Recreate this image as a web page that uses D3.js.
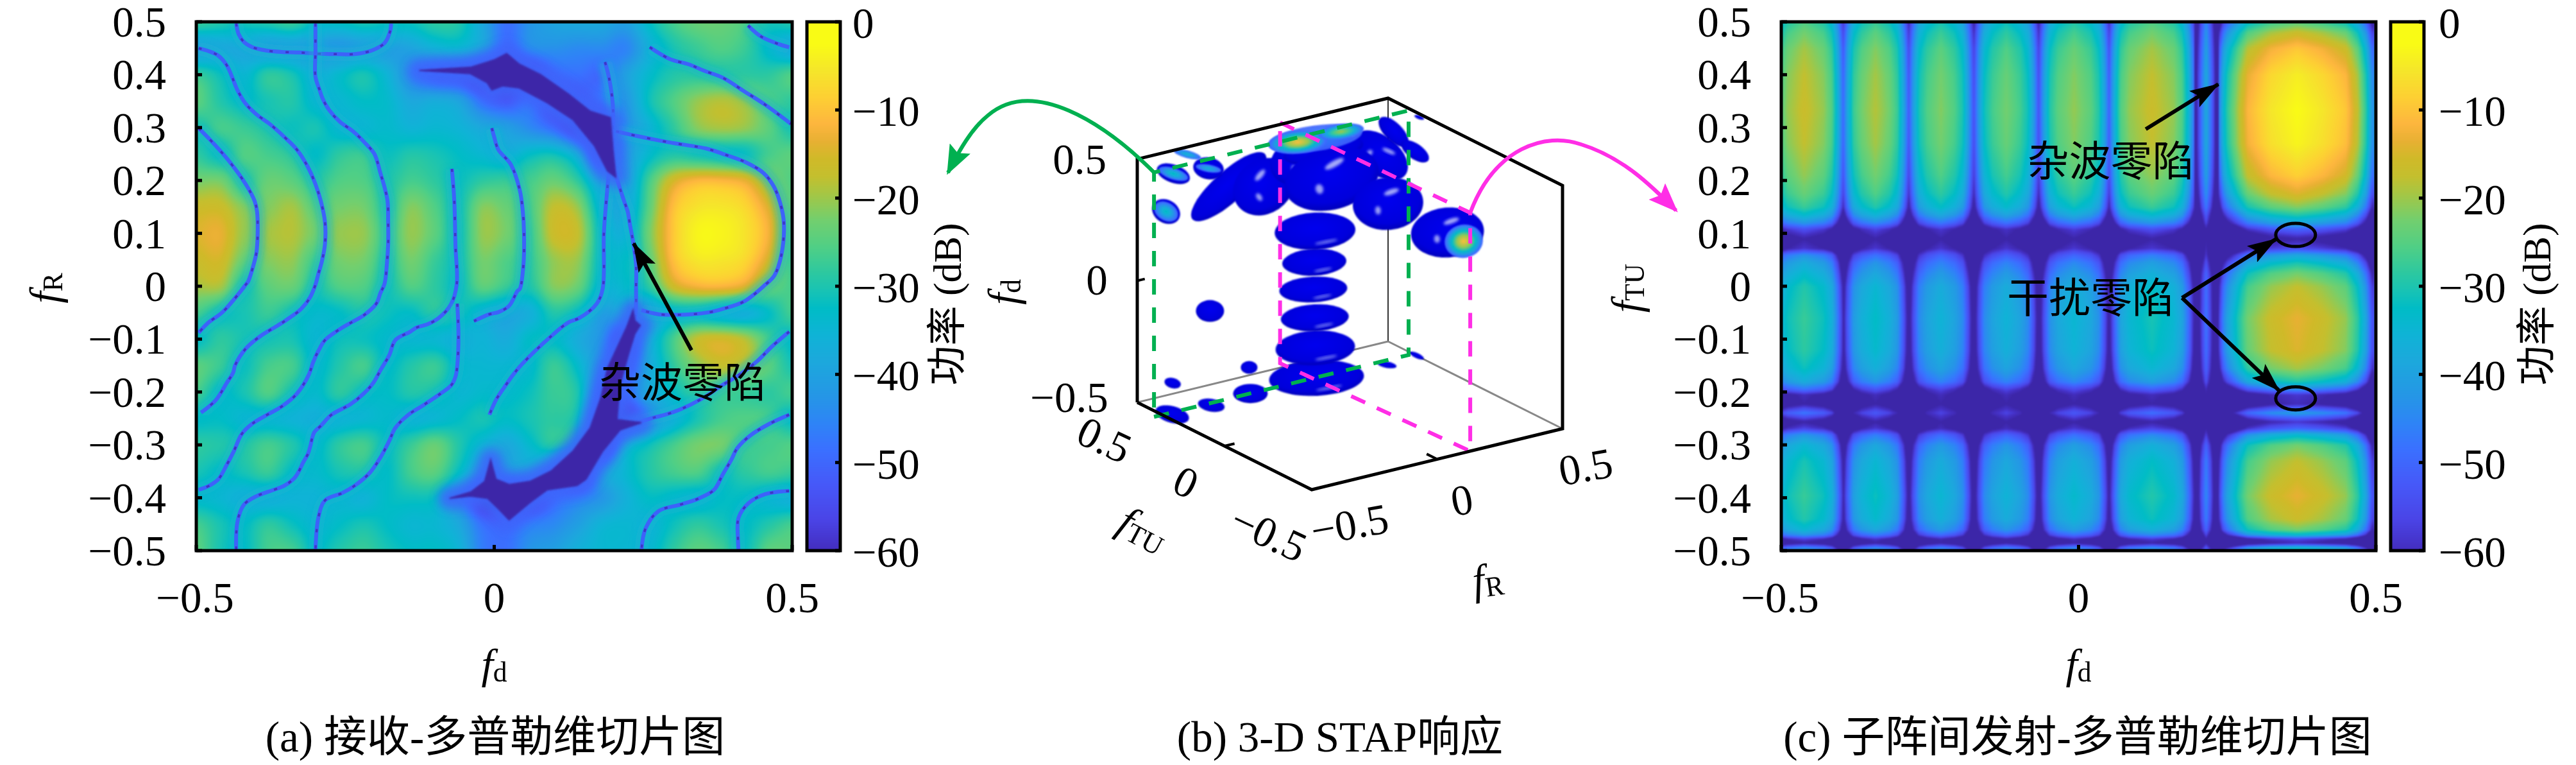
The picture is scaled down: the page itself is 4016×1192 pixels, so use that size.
<!DOCTYPE html>
<html><head><meta charset="utf-8">
<script src="https://cdnjs.cloudflare.com/ajax/libs/d3/7.9.0/d3.min.js"></script>
<style>
html,body{margin:0;padding:0;background:#fff;width:4016px;height:1192px;overflow:hidden}
canvas{position:absolute}
svg{position:absolute;left:0;top:0}
text{font-family:"Liberation Serif","Noto Sans CJK SC",serif;fill:#000}
</style></head><body>
<div id="root"></div>
<script>
// ---------- colour bar (dB -> colour)
const cbDb=[0,-3,-6,-9,-11,-13,-15,-17,-20,-23,-26,-28,-30,-33,-36,-40,-43,-46,-50,-54,-57,-60];
const cbColors=["#f9fb15","#f5e62a","#fdd033","#fdb63e","#e8b033","#d0b928","#c4bf2e","#a5c644","#72cf6e","#50cf85","#2cc8a0","#18c3b4","#00bcc6","#0fb3d6","#1ca8dc","#2596e6","#2e84f6","#3a70ff","#4658f8","#4a44e6","#4430c4","#3c26a8"];
const cbTicks=[0,-10,-20,-30,-40,-50,-60];
const yTicks=[0.5,0.4,0.3,0.2,0.1,0,-0.1,-0.2,-0.3,-0.4,-0.5];
const xTicks=[-0.5,0,0.5];

// ---------- panel (a): received-Doppler slice, read on a 0.04 x 0.05 lattice
const aFd=[-.5,-.46,-.42,-.38,-.34,-.30,-.26,-.22,-.18,-.14,-.10,-.06,-.02,.02,.06,.10,.14,.18,.22,.26,.30,.34,.38,.42,.46,.50];
const aFr=[.5,.45,.4,.35,.3,.25,.2,.15,.1,.05,0,-.05,-.1,-.15,-.2,-.25,-.3,-.35,-.4,-.45,-.5];
const aPower=[
[-25,-27,-28,-27,-25,-30,-30,-28,-29,-29,-26,-27,-36,-46,-40,-37,-36,-36,-38,-30,-24,-21,-21,-23,-28,-27],
[-38,-36,-36,-38,-38,-39,-40,-38,-38,-37,-34,-33,-38,-48,-42,-41,-42,-42,-43,-34,-28,-25,-23,-25,-31,-36],
[-25,-29,-32,-26,-28,-34,-31,-28,-33,-42,-48,-50,-56,-60,-56,-48,-46,-47,-38,-31,-27,-26,-26,-26,-26,-23],
[-22,-27,-30,-28,-27,-32,-32,-30,-31,-36,-35,-37,-46,-50,-46,-54,-52,-46,-40,-29,-23,-18,-16,-18,-23,-26],
[-28,-24,-25,-27,-29,-28,-32,-32,-31,-33,-32,-33,-36,-38,-42,-47,-56,-60,-42,-33,-26,-19,-17,-18,-22,-28],
[-26,-29,-23,-24,-26,-30,-26,-25,-29,-27,-28,-30,-32,-34,-30,-29,-36,-55,-40,-31,-27,-28,-29,-29,-24,-22],
[-20,-20,-26,-21,-22,-26,-23,-23,-27,-24,-26,-29,-26,-25,-24,-21,-26,-38,-38,-24,-13,-9,-9,-11,-18,-23],
[-14,-14,-19,-19,-17,-22,-20,-20,-26,-19,-23,-28,-19,-21,-23,-15,-18,-33,-36,-22,-8,-3.5,-3,-5,-12,-22],
[-12,-11,-18,-17,-16,-20,-18,-18,-24,-18,-22,-28,-18,-20,-24,-14,-15,-30,-33,-20,-7,-1,-1,-3.5,-10,-24],
[-14,-13,-21,-19,-18,-24,-20,-20,-26,-20,-25,-28,-20,-23,-25,-18,-18,-30,-30,-22,-8,-3,-3,-5,-13,-25],
[-17,-17,-27,-22,-21,-27,-23,-23,-28,-23,-26,-29,-22,-25,-27,-19,-21,-32,-31,-26,-14,-10,-9.5,-12,-20,-24],
[-24,-28,-28,-25,-28,-31,-30,-27,-29,-30,-26,-28,-33,-36,-34,-27,-30,-38,-36,-38,-31,-30,-33,-34,-30,-24],
[-30,-26,-28,-28,-28,-32,-29,-29,-31,-32,-32,-34,-33,-35,-30,-30,-35,-41,-54,-36,-24,-15,-13,-16,-24,-30],
[-22,-25,-29,-24,-24,-31,-27,-24,-30,-27,-25,-31,-32,-32,-31,-25,-31,-42,-50,-36,-26,-19,-15,-17,-22,-28],
[-24,-30,-28,-23,-28,-31,-26,-29,-30,-27,-28,-32,-31,-31,-29,-25,-28,-48,-46,-36,-30,-25,-24,-25,-26,-24],
[-30,-30,-32,-32,-33,-34,-33,-32,-31,-33,-32,-30,-28,-30,-28,-26,-30,-55,-56,-42,-34,-28,-24,-23,-24,-30],
[-26,-27,-27,-24,-27,-31,-26,-24,-29,-25,-21,-27,-33,-36,-31,-27,-34,-58,-36,-29,-24,-20,-20,-24,-24,-23],
[-28,-30,-28,-25,-30,-31,-28,-27,-30,-24,-22,-30,-40,-40,-38,-46,-58,-40,-32,-27,-24,-23,-28,-26,-24,-25],
[-31,-32,-34,-34,-33,-33,-32,-33,-30,-29,-30,-40,-56,-60,-55,-47,-44,-40,-34,-30,-31,-32,-30,-30,-32,-34],
[-24,-28,-30,-26,-29,-32,-30,-28,-30,-32,-32,-36,-46,-48,-44,-42,-38,-33,-32,-33,-29,-26,-28,-30,-27,-24],
[-22,-28,-30,-24,-24,-30,-27,-25,-28,-30,-30,-33,-44,-46,-40,-38,-34,-32,-32,-32,-26,-22,-24,-29,-22,-22]];
// null ridges of panel (a): [fd, fR]
const aNulls=[
[[-.433,.497],[-.429,.477],[-.420,.462],[-.406,.452],[-.384,.446],[-.356,.443],[-.327,.442],[-.302,.440],[-.263,.439],[-.234,.439],[-.205,.446],[-.184,.460],[-.175,.481],[-.173,.497]],
[[-.496,.450],[-.478,.444],[-.463,.436],[-.449,.418],[-.440,.396],[-.431,.371],[-.417,.345],[-.399,.325],[-.377,.307],[-.352,.282],[-.331,.258],[-.313,.226],[-.300,.193],[-.291,.161],[-.284,.121],[-.284,.080],[-.289,.048],[-.295,.024],[-.300,.003],[-.309,-.021],[-.324,-.043],[-.349,-.064],[-.363,-.074],[-.392,-.094],[-.417,-.118],[-.435,-.150],[-.438,-.163],[-.449,-.183],[-.467,-.215],[-.492,-.239]],
[[-.496,.299],[-.471,.270],[-.446,.238],[-.417,.193],[-.402,.161],[-.398,.141],[-.397,.100],[-.399,.064],[-.404,.040],[-.413,.009],[-.417,.003],[-.428,-.013],[-.456,-.049],[-.481,-.070],[-.496,-.088]],
[[-.300,.497],[-.300,.444],[-.300,.396],[-.293,.371],[-.288,.355],[-.277,.333],[-.259,.311],[-.237,.293],[-.216,.270],[-.201,.250],[-.191,.214],[-.184,.187],[-.179,.161],[-.178,.121],[-.178,.080],[-.180,.044],[-.184,.005],[-.191,-.013],[-.198,-.033],[-.219,-.055],[-.239,-.068],[-.263,-.084],[-.284,-.102],[-.295,-.122],[-.304,-.144],[-.311,-.167],[-.331,-.203],[-.356,-.227],[-.381,-.243],[-.406,-.260],[-.424,-.280],[-.437,-.312],[-.449,-.338],[-.463,-.365],[-.478,-.377],[-.496,-.385]],
[[-.071,.222],[-.067,.161],[-.065,.076],[-.063,.003],[-.073,-.035],[-.093,-.060],[-.112,-.072],[-.130,-.078],[-.141,-.086],[-.166,-.102],[-.176,-.130],[-.191,-.159],[-.203,-.183],[-.219,-.203],[-.241,-.223],[-.273,-.243],[-.291,-.264],[-.302,-.276],[-.309,-.304],[-.313,-.318],[-.320,-.332],[-.334,-.361],[-.352,-.377],[-.370,-.385],[-.399,-.397],[-.420,-.413],[-.431,-.446],[-.433,-.500]],
[[-.062,-.033],[-.060,-.094],[-.062,-.150],[-.065,-.171],[-.072,-.187],[-.090,-.203],[-.119,-.225],[-.144,-.243],[-.166,-.268],[-.176,-.292],[-.191,-.324],[-.209,-.353],[-.234,-.377],[-.255,-.391],[-.284,-.405],[-.295,-.437],[-.300,-.500]],
[[-.004,.299],[0,.282],[.007,.258],[.028,.230],[.043,.181],[.048,.141],[.050,.100],[.049,.040],[.043,-.005],[.039,-.009],[.025,-.037],[.007,-.049],[-.008,-.053],[-.034,-.066]],
[[.193,.222],[.188,.161],[.184,.100],[.182,-.005],[.172,-.033],[.143,-.060],[.125,-.068],[.096,-.094],[.046,-.148],[.032,-.167],[.017,-.191],[.003,-.215],[-.008,-.243]],
[[.186,.424],[.193,.392],[.199,.343],[.199,.282],[.200,.230],[.211,.185],[.218,.161],[.224,.141],[.228,.115],[.233,.084],[.238,.040],[.238,-.005],[.238,-.033],[.236,-.065]],
[[.261,.452],[.294,.430],[.328,.419],[.351,.408],[.384,.394],[.419,.369],[.455,.343],[.498,.307]],
[[.426,.493],[.448,.472],[.477,.458],[.495,.452]],
[[.204,.293],[.240,.284],[.294,.272],[.357,.260],[.387,.249],[.423,.234],[.452,.214],[.469,.189],[.480,.157],[.486,.121],[.482,.060],[.470,.020],[.455,.003],[.419,-.029],[.383,-.043],[.362,-.049],[.330,-.053],[.276,-.053],[.247,-.045]],
[[.495,-.086],[.466,-.114],[.441,-.142],[.412,-.167],[.383,-.187],[.348,-.213],[.312,-.233],[.287,-.243],[.269,-.248],[.240,-.258],[.211,-.268]],
[[.495,-.243],[.462,-.260],[.430,-.282],[.408,-.306],[.398,-.328],[.383,-.357],[.369,-.385],[.344,-.401],[.312,-.413],[.276,-.425],[.254,-.458],[.247,-.500]],
[[.495,-.387],[.455,-.393],[.427,-.410],[.410,-.438],[.409,-.478],[.410,-.500]]];
// deep (-60 dB) clutter notch regions of panel (a): [fd, fR]
const aNotches=[
[[-.126,.408],[-.040,.414],[0,.428],[.021,.440],[.042,.420],[.078,.400],[.125,.363],[.161,.331],[.195,.319],[.199,.262],[.204,.206],[.190,.218],[.168,.266],[.132,.315],[.089,.347],[.042,.375],[.014,.379],[-.004,.371],[-.012,.385],[-.040,.402]],
[[.236,-.065],[.245,-.074],[.236,-.090],[.225,-.130],[.211,-.187],[.206,-.252],[.247,-.258],[.211,-.272],[.182,-.312],[.154,-.365],[.139,-.377],[.089,-.385],[.060,-.409],[.025,-.442],[.007,-.421],[-.011,-.401],[-.040,-.397],[-.075,-.401],[-.039,-.389],[-.016,-.369],[-.006,-.328],[.003,-.365],[.025,-.375],[.060,-.369],[.096,-.349],[.132,-.312],[.161,-.268],[.179,-.211],[.190,-.155],[.222,-.078],[.233,-.045]]];
const aArrow=[[.331,-.121],[.234,.081]];
const aClutterLabel=[.316,-.183];

// ---------- panel (c): transmit-Doppler slice, ridge level of each lobe along fTU
const cLobeNulls=[-.397,-.287,-.177,-.067,.052,.194,.235];
const cRowKnots=[.5,.48,.45,.40,.334,.27,.21,.175,.15,.135,.12,.108,.09,.072,.06,.045,.025,0,-.06,-.12,-.155,-.18,-.195,-.205,-.222,-.239,-.256,-.268,-.28,-.30,-.33,-.396,-.44,-.46,-.47,-.478,-.485,-.492,-.5];
const cRidge=[
[-23,-25,-28,-29,-27,-23,-42,-22],[-20,-22,-25,-26,-24,-20,-40,-14],[-17,-19,-22,-23,-21,-17,-38,-7],[-15,-17,-20,-21,-19,-15,-36,-2],
[-14,-16,-19,-20,-18,-14,-36,0],[-15,-17,-20,-21,-19,-15,-36,-1],[-18,-20,-23,-24,-22,-18,-38,-6],[-21,-23,-26,-27,-25,-21,-41,-12],
[-25,-27,-30,-31,-29,-25,-45,-19],[-31,-33,-36,-37,-35,-31,-50,-27],[-40,-42,-45,-46,-44,-40,-54,-36],[-52,-54,-56,-57,-55,-52,-60,-48],
[-60,-60,-60,-60,-60,-60,-60,-60],[-56,-56,-56,-56,-56,-56,-58,-52],
[-41,-46,-48,-49,-48,-44,-56,-37],[-35,-40,-43,-43,-42,-38,-52,-28],[-31,-36,-39,-39,-38,-34,-48,-20],[-27,-32,-35,-35,-34,-30,-46,-15],
[-25,-30,-33,-33,-32,-28,-45,-11],[-26,-31,-34,-34,-33,-29,-46,-12],[-29,-34,-37,-37,-36,-32,-48,-17],[-35,-40,-43,-43,-42,-38,-52,-27],
[-46,-51,-54,-54,-53,-49,-58,-42],[-58,-58,-58,-58,-58,-58,-60,-56],[-60,-60,-60,-60,-60,-60,-60,-58],
[-45,-50,-54,-54,-50,-46,-60,-38],[-60,-60,-60,-60,-60,-60,-60,-56],[-54,-56,-58,-58,-56,-54,-60,-48],
[-40,-44,-47,-48,-46,-42,-55,-32],[-32,-36,-39,-40,-38,-34,-48,-20],[-28,-32,-35,-36,-34,-30,-44,-15],
[-25,-29,-32,-33,-31,-27,-42,-11],[-27,-31,-34,-35,-33,-29,-44,-14],[-32,-36,-39,-40,-38,-34,-48,-20],[-40,-44,-47,-48,-46,-42,-54,-32],
[-55,-57,-59,-60,-58,-56,-60,-54],[-60,-60,-60,-60,-60,-60,-60,-58],[-45,-46,-47,-47,-46,-45,-52,-36],[-36,-36,-38,-38,-37,-36,-46,-24]];
// fall-off from the ridge across fd
const cFdKnots=[-.5,-.49,-.462,-.429,-.415,-.405,-.397,-.389,-.379,-.365,-.342,-.319,-.305,-.295,-.287,-.279,-.269,-.255,-.232,-.209,-.195,-.185,-.177,-.169,-.159,-.145,-.122,-.099,-.085,-.075,-.067,-.059,-.049,-.035,-.008,.02,.034,.044,.052,.06,.07,.085,.123,.16,.174,.186,.194,.2,.206,.214,.222,.228,.235,.243,.25,.269,.284,.323,.367,.41,.449,.469,.483,.495,.5];
const cFdDrop=[-8,-4,0,-4,-9,-20,-32,-20,-9,-4,0,-4,-9,-20,-32,-20,-9,-4,0,-4,-9,-20,-32,-20,-9,-4,0,-4,-9,-20,-32,-20,-9,-4,0,-4,-9,-20,-32,-20,-9,-4,0,-4,-9,-20,-32,-20,-10,0,-10,-20,-45,-32,-26,-16,-9,-3,0,-3,-7,-15,-26,-42,-28];
const cArrowClutter=[[.113,.297],[.235,.382]];
const cClutterLabel=[.054,.235];
const cJamLabel=[.020,-.023];
const cJamFrom=[.174,-.022];
const cJamTips=[[.332,.089],[.337,-.197]];
const cJamMarks=[[.365,.097],[.365,-.212]];

// ---------- panel (b): isosurface lobes [fR, fTU, fd]
const bLobeCenters=[[.120,0,.540],[.174,0,.623],[.260,0,.521],[-.483,0,.562],[-.344,0,.527],[-.193,0,.597],[-.106,0,.617],[-.073,0,.492],[.152,0,.333],
[-.133,0,-.312],[-.138,0,-.187],[-.140,0,-.063],[-.146,0,.055],[-.142,0,.166],[-.139,0,.293],[.389,0,.155],
[-.21,.5,-.197],[-.054,.5,-.468],[-.359,.5,-.456],[-.356,.5,.404],[-.216,.5,.391],[-.385,.5,.256],
[-.188,.3,-.470],[-.344,.3,-.479],[-.5,.3,-.478],[.287,.2,-.435],[.406,.2,-.427],[.481,.294,.5]];
const bLobeRadii=[[50,30],[30,14],[25,12],[76,24],[50,42],[50,37],[63,20],[75,48],[55,41],[74,28],[62,27],[53,21],[53,20],[50,21],[63,29],[57,39],[22,17],[13,10],[13,8],[27,14],[24,17],[23,18],[27,15],[21,10],[27,13],[15,5],[12,4],[8,3]];
const bLobeTilt=[38,45,35,-42,-35,-20,-10,-15,-5,-3,-3,-3,-3,-3,-3,-5,0,0,15,20,10,30,0,10,15,10,25,20];
// slice caps [fR, fTU, fd, peak dB]
const bCaps=[[.089,.327,.5,-42],[.022,.33,.5,-8],[.194,.33,.5,-17],[.454,0,.103,-8],[-.356,.5,.404,-30],[-.216,.5,.391,-34],[-.385,.5,.256,-30],[-.30,.5,.47,-33]];
const bCapRadii=[[74,20],[46,18],[36,12],[30,26],[24,9],[20,6],[20,14],[22,6]];
const bCapTilt=[-8,-5,-8,-10,18,10,30,15];
const bGreenPlane=[[-.5,.404,-.525],[.515,.404,-.525],[.515,.404,.48],[-.5,.404,.48]];
const bPinkPlane=[[.132,.59,.46],[.132,-.5,.48],[.132,-.5,-.5],[.132,.59,-.53]];
const bTicks=[-0.5,0,0.5];

const fmt=v=>String(v).replace("-","\u2212").replace(/^(\u2212?)\./,"$10.");
const W=4016,H=1192;
const color=d3.scaleLinear().domain(cbDb.slice().reverse()).range(cbColors.slice().reverse()).clamp(true);
const root=d3.select("#root");

function paint(x,y,w,h,fn,blur){
  const cv=root.append("canvas").attr("width",w).attr("height",h).style("left",x+"px").style("top",y+"px").style("filter",blur?`blur(${blur}px)`:null).node();
  const c=cv.getContext("2d"),img=c.createImageData(w,h);
  const lut=d3.range(0,601).map(i=>d3.rgb(color(-i/10)));
  for(let j=0;j<h;j++)for(let i=0;i<w;i++){
    const v=Math.max(-60,Math.min(0,fn(i,j)));
    const q=lut[Math.round(-v*10)],k=4*(j*w+i);
    img.data[k]=q.r;img.data[k+1]=q.g;img.data[k+2]=q.b;img.data[k+3]=255;
  }
  c.putImageData(img,0,0);
}
const cr=(a,b,c,d,t)=>b+0.5*t*(c-a+t*(2*a-5*b+4*c-d+t*(3*(b-c)+d-a)));

const svg=root.append("svg").attr("width",W).attr("height",H).style("z-index",3);
const defs=svg.append("defs");
[["b1",1],["b2",2],["b4",5],["b6",8],["b1h",1.8],["b07",.7]].forEach(([id,s])=>defs.append("filter").attr("id",id).attr("x","-40%").attr("y","-40%").attr("width","180%").attr("height","180%").append("feGaussianBlur").attr("stdDeviation",s));
const arrow=defs.append("marker").attr("id","ah").attr("markerUnits","userSpaceOnUse").attr("viewBox","0 0 46 30").attr("refX",44).attr("refY",15).attr("markerWidth",46).attr("markerHeight",30).attr("orient","auto");
arrow.append("path").attr("d","M0,0 L46,15 L0,30 L9,15 Z").attr("fill","#000");

function fText(g,x,y,sub,size,rot){
  const t=g.append("text").attr("text-anchor","middle").attr("dominant-baseline","central").attr("font-size",size)
    .attr("transform",`translate(${x},${y})`+(rot?` rotate(${rot})`:""));
  t.append("tspan").attr("font-style","italic").text("f");
  t.append("tspan").attr("font-size",size*0.66).attr("dy",size*0.2).text(sub);
}
function frame(g,x,y,xs,ys,xsub,ysub,yTitleX,cbx,cbTitleX,cbLabelX,caption,capX){
  const yr=ys.range(),xr=xs.range();
  g.append("rect").attr("x",xr[0]).attr("y",yr[0]).attr("width",xr[1]-xr[0]).attr("height",yr[1]-yr[0]).attr("fill","none").attr("stroke","#000").attr("stroke-width",5);
  yTicks.forEach(v=>{
    g.append("line").attr("x1",xr[0]).attr("x2",xr[0]+9).attr("y1",ys(v)).attr("y2",ys(v)).attr("stroke","#000").attr("stroke-width",5);
    g.append("text").attr("x",xr[0]-47).attr("y",ys(v)).attr("text-anchor","end").attr("dominant-baseline","central").attr("font-size",67).text(fmt(v));
  });
  xTicks.forEach(v=>{
    g.append("line").attr("x1",xs(v)).attr("x2",xs(v)).attr("y1",yr[1]).attr("y2",yr[1]-9).attr("stroke","#000").attr("stroke-width",5);
    g.append("text").attr("x",xs(v)+(v<0?-2:0)).attr("y",931).attr("text-anchor","middle").attr("dominant-baseline","central").attr("font-size",67).text(fmt(v));
  });
  fText(g,xs(0),1034,xsub,66);
  fText(g,yTitleX,(yr[0]+yr[1])/2+3,ysub,66,-90);
  const cs=d3.scaleLinear().domain([0,-60]).range([yr[0],yr[1]]);
  g.append("rect").attr("x",cbx).attr("y",yr[0]).attr("width",52).attr("height",yr[1]-yr[0]).attr("fill","none").attr("stroke","#000").attr("stroke-width",5);
  cbTicks.forEach(v=>{
    g.append("line").attr("x1",cbx+52).attr("x2",cbx+44).attr("y1",cs(v)).attr("y2",cs(v)).attr("stroke","#000").attr("stroke-width",5);
    g.append("text").attr("x",cbLabelX).attr("y",cs(v)+2).attr("dominant-baseline","central").attr("font-size",67).text(fmt(v));
  });
  g.append("text").attr("transform",`translate(${cbTitleX},${(yr[0]+yr[1])/2+28}) rotate(-90)`).attr("text-anchor","middle").attr("dominant-baseline","central").attr("font-size",62).text("功率 (dB)");
  g.append("text").attr("x",capX).attr("y",1148).attr("text-anchor","middle").attr("dominant-baseline","central").attr("font-size",67).text(caption);
  paint(cbx,yr[0],52,yr[1]-yr[0],(i,j)=>cs.invert(j));
}

// ===== Panel (a)
const axa=d3.scaleLinear().domain([-.5,.5]).range([306,1235]);
const aya=d3.scaleLinear().domain([.5,-.5]).range([34,858]);
{
  const w=929,h=824,cols=aFd.length,rows=aFr.length;
  const ci=d3.scaleLinear().domain([-.5,.5]).range([0,cols-1]);
  const ri=d3.scaleLinear().domain([.5,-.5]).range([0,rows-1]);
  const at=(r,c)=>aPower[Math.max(0,Math.min(rows-1,r))][Math.max(0,Math.min(cols-1,c))];
  paint(306,34,w,h,(i,j)=>{
    const u=ci(axa.invert(306+i)),v=ri(aya.invert(34+j));
    const c=Math.floor(u),r=Math.floor(v),tu=u-c,tv=v-r,p=[];
    for(let k=-1;k<3;k++)p.push(cr(at(r+k,c-1),at(r+k,c),at(r+k,c+1),at(r+k,c+2),tu));
    return cr(p[0],p[1],p[2],p[3],tv);
  });
  const g=svg.append("g");
  defs.append("clipPath").attr("id","clipA").append("rect").attr("x",306).attr("y",34).attr("width",w).attr("height",h);
  const over=g.append("g").attr("clip-path","url(#clipA)");
  const line=d3.line().x(d=>axa(d[0])).y(d=>aya(d[1])).curve(d3.curveCatmullRom);
  const closed=d3.line().x(d=>axa(d[0])).y(d=>aya(d[1])).curve(d3.curveLinearClosed);
  aNulls.forEach(l=>{
    over.append("path").attr("d",line(l)).attr("fill","none").attr("stroke","#0cb4cf").attr("stroke-width",22).attr("stroke-opacity",.55).attr("filter","url(#b4)");
    over.append("path").attr("d",line(l)).attr("fill","none").attr("stroke","#3c62fa").attr("stroke-width",6).attr("filter","url(#b07)");
    over.append("path").attr("d",line(l)).attr("fill","none").attr("stroke","#3f2cb8").attr("stroke-width",3.5).attr("stroke-opacity",.8).attr("stroke-dasharray","5 20");
  });
  aNotches.forEach(p=>{
    over.append("path").attr("d",closed(p)).attr("fill","#3d66fb").attr("stroke","#3d66fb").attr("stroke-width",34).attr("stroke-linejoin","round").attr("filter","url(#b6)").attr("opacity",.9);
    over.append("path").attr("d",closed(p)).attr("fill","#3c27a8").attr("stroke","#3c27a8").attr("stroke-width",2).attr("filter","url(#b1h)");
  });
  g.append("line").attr("x1",axa(aArrow[0][0])).attr("y1",aya(aArrow[0][1])).attr("x2",axa(aArrow[1][0])).attr("y2",aya(aArrow[1][1])).attr("stroke","#000").attr("stroke-width",6).attr("marker-end","url(#ah)");
  g.append("text").attr("x",axa(aClutterLabel[0])).attr("y",aya(aClutterLabel[1])).attr("text-anchor","middle").attr("dominant-baseline","central").attr("font-size",65).text("杂波零陷");
  frame(g,306,34,axa,aya,"d","R",69,1258,1477,1329,"(a) 接收-多普勒维切片图",772);
}

// ===== Panel (c)
const axc=d3.scaleLinear().domain([-.5,.5]).range([2777,3704]);
const ayc=d3.scaleLinear().domain([.5,-.5]).range([34,858]);
{
  const w=927,h=824;
  const drop=d3.scaleLinear().domain(cFdKnots).range(cFdDrop);
  const ridge=d3.range(8).map(l=>d3.scaleLinear().domain(cRowKnots).range(cRidge.map(r=>r[l])));
  const px=d3.range(w).map(i=>{const f=axc.invert(2777+i);return {l:d3.bisect(cLobeNulls,f),d:drop(f)};});
  const fy=d3.range(h).map(j=>ayc.invert(34+j));
  const rv=fy.map(f=>ridge.map(s=>s(f)));
  paint(2777,34,w,h,(i,j)=>rv[j][px[i].l]+px[i].d,1);
  const g=svg.append("g");
  const seg=(a,b)=>g.append("line").attr("x1",axc(a[0])).attr("y1",ayc(a[1])).attr("x2",axc(b[0])).attr("y2",ayc(b[1])).attr("stroke","#000").attr("stroke-width",6).attr("marker-end","url(#ah)");
  seg(cArrowClutter[0],cArrowClutter[1]);
  cJamTips.forEach(t=>seg(cJamFrom,t));
  cJamMarks.forEach(m=>g.append("ellipse").attr("cx",axc(m[0])).attr("cy",ayc(m[1])).attr("rx",31).attr("ry",18).attr("fill","none").attr("stroke","#000").attr("stroke-width",5));
  [[cClutterLabel,"杂波零陷"],[cJamLabel,"干扰零陷"]].forEach(([p,s])=>g.append("text").attr("x",axc(p[0])).attr("y",ayc(p[1])).attr("text-anchor","middle").attr("dominant-baseline","central").attr("font-size",65).text(s));
  frame(g,2777,34,axc,ayc,"d","TU",2535,3727,3955,3802,"(c) 子阵间发射-多普勒维切片图",3239);
}

// ===== Panel (b)
{
  const g=svg.append("g");
  const xR=d3.scaleLinear().domain([-.5,.5]).range([0,391]),yR=d3.scaleLinear().domain([-.5,.5]).range([0,-95]);
  const xT=d3.scaleLinear().domain([-.5,.5]).range([0,-272]),yT=d3.scaleLinear().domain([-.5,.5]).range([0,-136]);
  const yD=d3.scaleLinear().domain([-.5,.5]).range([0,-379]);
  const P=([r,t,d])=>[2045+xR(r)+xT(t),763+yR(r)+yT(t)+yD(d)];
  const thin=[[[.5,.5,.5],[.5,.5,-.5]],[[.5,.5,-.5],[-.5,.5,-.5]],[[.5,.5,-.5],[.5,-.5,-.5]]];
  const thick=[[-.5,.5,-.5],[-.5,-.5,-.5],[.5,-.5,-.5],[.5,-.5,.5],[.5,.5,.5],[-.5,.5,.5],[-.5,.5,-.5]];
  const ln=d3.line();
  thin.forEach((s,i)=>g.append("path").attr("d",ln(s.map(P))).attr("stroke",i?"#888":"#333").attr("stroke-width",i?3:2).attr("fill","none"));
  const body=defs.append("radialGradient").attr("id","lobe").attr("cx",.5).attr("cy",.42).attr("r",.6);
  body.append("stop").attr("offset",0).attr("stop-color","#0000ee");
  body.append("stop").attr("offset",.75).attr("stop-color","#0000dc");
  body.append("stop").attr("offset",1).attr("stop-color","#0000b4");
  const lobes=g.append("g");
  const isColumn=i=>i>=9&&i<=14;
  bLobeCenters.forEach((c,i)=>{
    const [x,y]=P(c),[rx,ry]=bLobeRadii[i];
    const e=lobes.append("g").attr("transform",`translate(${x},${y}) rotate(${bLobeTilt[i]})`);
    e.append("ellipse").attr("rx",rx).attr("ry",ry).attr("fill","url(#lobe)").attr("filter","url(#b1)");
    if(rx>=40&&isColumn(i)){
      e.append("ellipse").attr("cx",rx*.22).attr("cy",ry*.68).attr("rx",rx*.28).attr("ry",Math.max(2,ry*.08)).attr("fill","#c8d4ff").attr("opacity",.6).attr("transform","rotate(-8)").attr("filter","url(#b2)");
    } else if(rx>=40&&ry>=30){
      e.append("ellipse").attr("cx",rx*.2).attr("cy",-ry*.38).attr("rx",rx*.22).attr("ry",Math.max(2,ry*.1)).attr("fill","#dbe3ff").attr("opacity",.75).attr("transform","rotate(-14)").attr("filter","url(#b2)");
      e.append("ellipse").attr("cx",-rx*.3).attr("cy",ry*.22).attr("rx",rx*.08).attr("ry",ry*.16).attr("fill","#dbe3ff").attr("opacity",.7).attr("filter","url(#b2)");
    }
  });
  bCaps.forEach((c,i)=>{
    const [x,y]=P(c),[rx,ry]=bCapRadii[i],peak=c[3];
    const gr=defs.append("radialGradient").attr("id","cap"+i);
    [0,.35,.6,.8,.92,1].forEach((o,k)=>gr.append("stop").attr("offset",o).attr("stop-color",color(peak+(-48-peak)*[0,.25,.55,.8,.95,1][k])));
    g.append("ellipse").attr("transform",`translate(${x},${y}) rotate(${bCapTilt[i]})`).attr("rx",rx).attr("ry",ry).attr("fill",`url(#cap${i})`).attr("filter","url(#b1)").attr("opacity",i==0?.92:1);
  });
  const closed=d3.line().curve(d3.curveLinearClosed);
  g.append("path").attr("d",closed(bGreenPlane.map(P))).attr("fill","none").attr("stroke","#00b050").attr("stroke-width",6).attr("stroke-dasharray","24 20");
  g.append("path").attr("d",closed(bPinkPlane.map(P))).attr("fill","none").attr("stroke","#ff2ee6").attr("stroke-width",6).attr("stroke-dasharray","24 20");
  g.append("path").attr("d",ln(thick.map(P))).attr("fill","none").attr("stroke","#000").attr("stroke-width",5).attr("stroke-linejoin","miter");
  [[[-.5,.5,0],[-.47,.5,0]],[[-.5,0,-.5],[-.46,0,-.5]],[[0,-.5,-.5],[0,-.44,-.5]]].forEach(s=>g.append("path").attr("d",ln(s.map(P))).attr("stroke","#000").attr("stroke-width",4));
  const lab=(x,y,s,rot)=>g.append("text").attr("transform",`translate(${x},${y}) rotate(${rot||0})`).attr("text-anchor","middle").attr("dominant-baseline","central").attr("font-size",67).text(s);
  const yFd=[619,436,248],xFd=[1667,1710,1683];
  bTicks.forEach((v,i)=>lab(xFd[i],yFd[i],fmt(v)));
  const tuPos=[[1978,831],[1849,751],[1722,685]];
  bTicks.forEach((v,i)=>lab(tuPos[i][0],tuPos[i][1],fmt(v),25));
  const rPos=[[2104,817],[2279,779],[2472,727]];
  bTicks.forEach((v,i)=>lab(rPos[i][0],rPos[i][1],fmt(v),-10));
  fText(g,1563,455,"d",66,-90);
  fText(g,1783,824,"TU",66,28);
  fText(g,2319,901,"R",66,-8);
  g.append("text").attr("x",2089).attr("y",1148).attr("text-anchor","middle").attr("dominant-baseline","central").attr("font-size",67).text("(b) 3-D STAP响应");
  const gm=defs.append("marker").attr("id","ag").attr("markerUnits","userSpaceOnUse").attr("viewBox","0 0 46 36").attr("refX",42).attr("refY",18).attr("markerWidth",46).attr("markerHeight",36).attr("orient","auto");
  gm.append("path").attr("d","M0,0 L46,18 L0,36 L8,18 Z").attr("fill","#00b050");
  const mm=defs.append("marker").attr("id","am").attr("markerUnits","userSpaceOnUse").attr("viewBox","0 0 46 36").attr("refX",42).attr("refY",18).attr("markerWidth",46).attr("markerHeight",36).attr("orient","auto");
  mm.append("path").attr("d","M0,0 L46,18 L0,36 L8,18 Z").attr("fill","#ff2ee6");
  const [gx,gy]=P(bGreenPlane[3]),[mx,my]=P(bPinkPlane[1]);
  g.append("path").attr("d",`M${gx},${gy} C1720,190 1610,120 1540,180 C1515,200 1495,235 1478,269`).attr("fill","none").attr("stroke","#00b050").attr("stroke-width",6).attr("marker-end","url(#ag)");
  g.append("path").attr("d",`M${mx},${my} C2330,230 2410,205 2465,225 C2530,245 2575,290 2613,328`).attr("fill","none").attr("stroke","#ff2ee6").attr("stroke-width",6).attr("marker-end","url(#am)");
}
</script>
</body></html>
